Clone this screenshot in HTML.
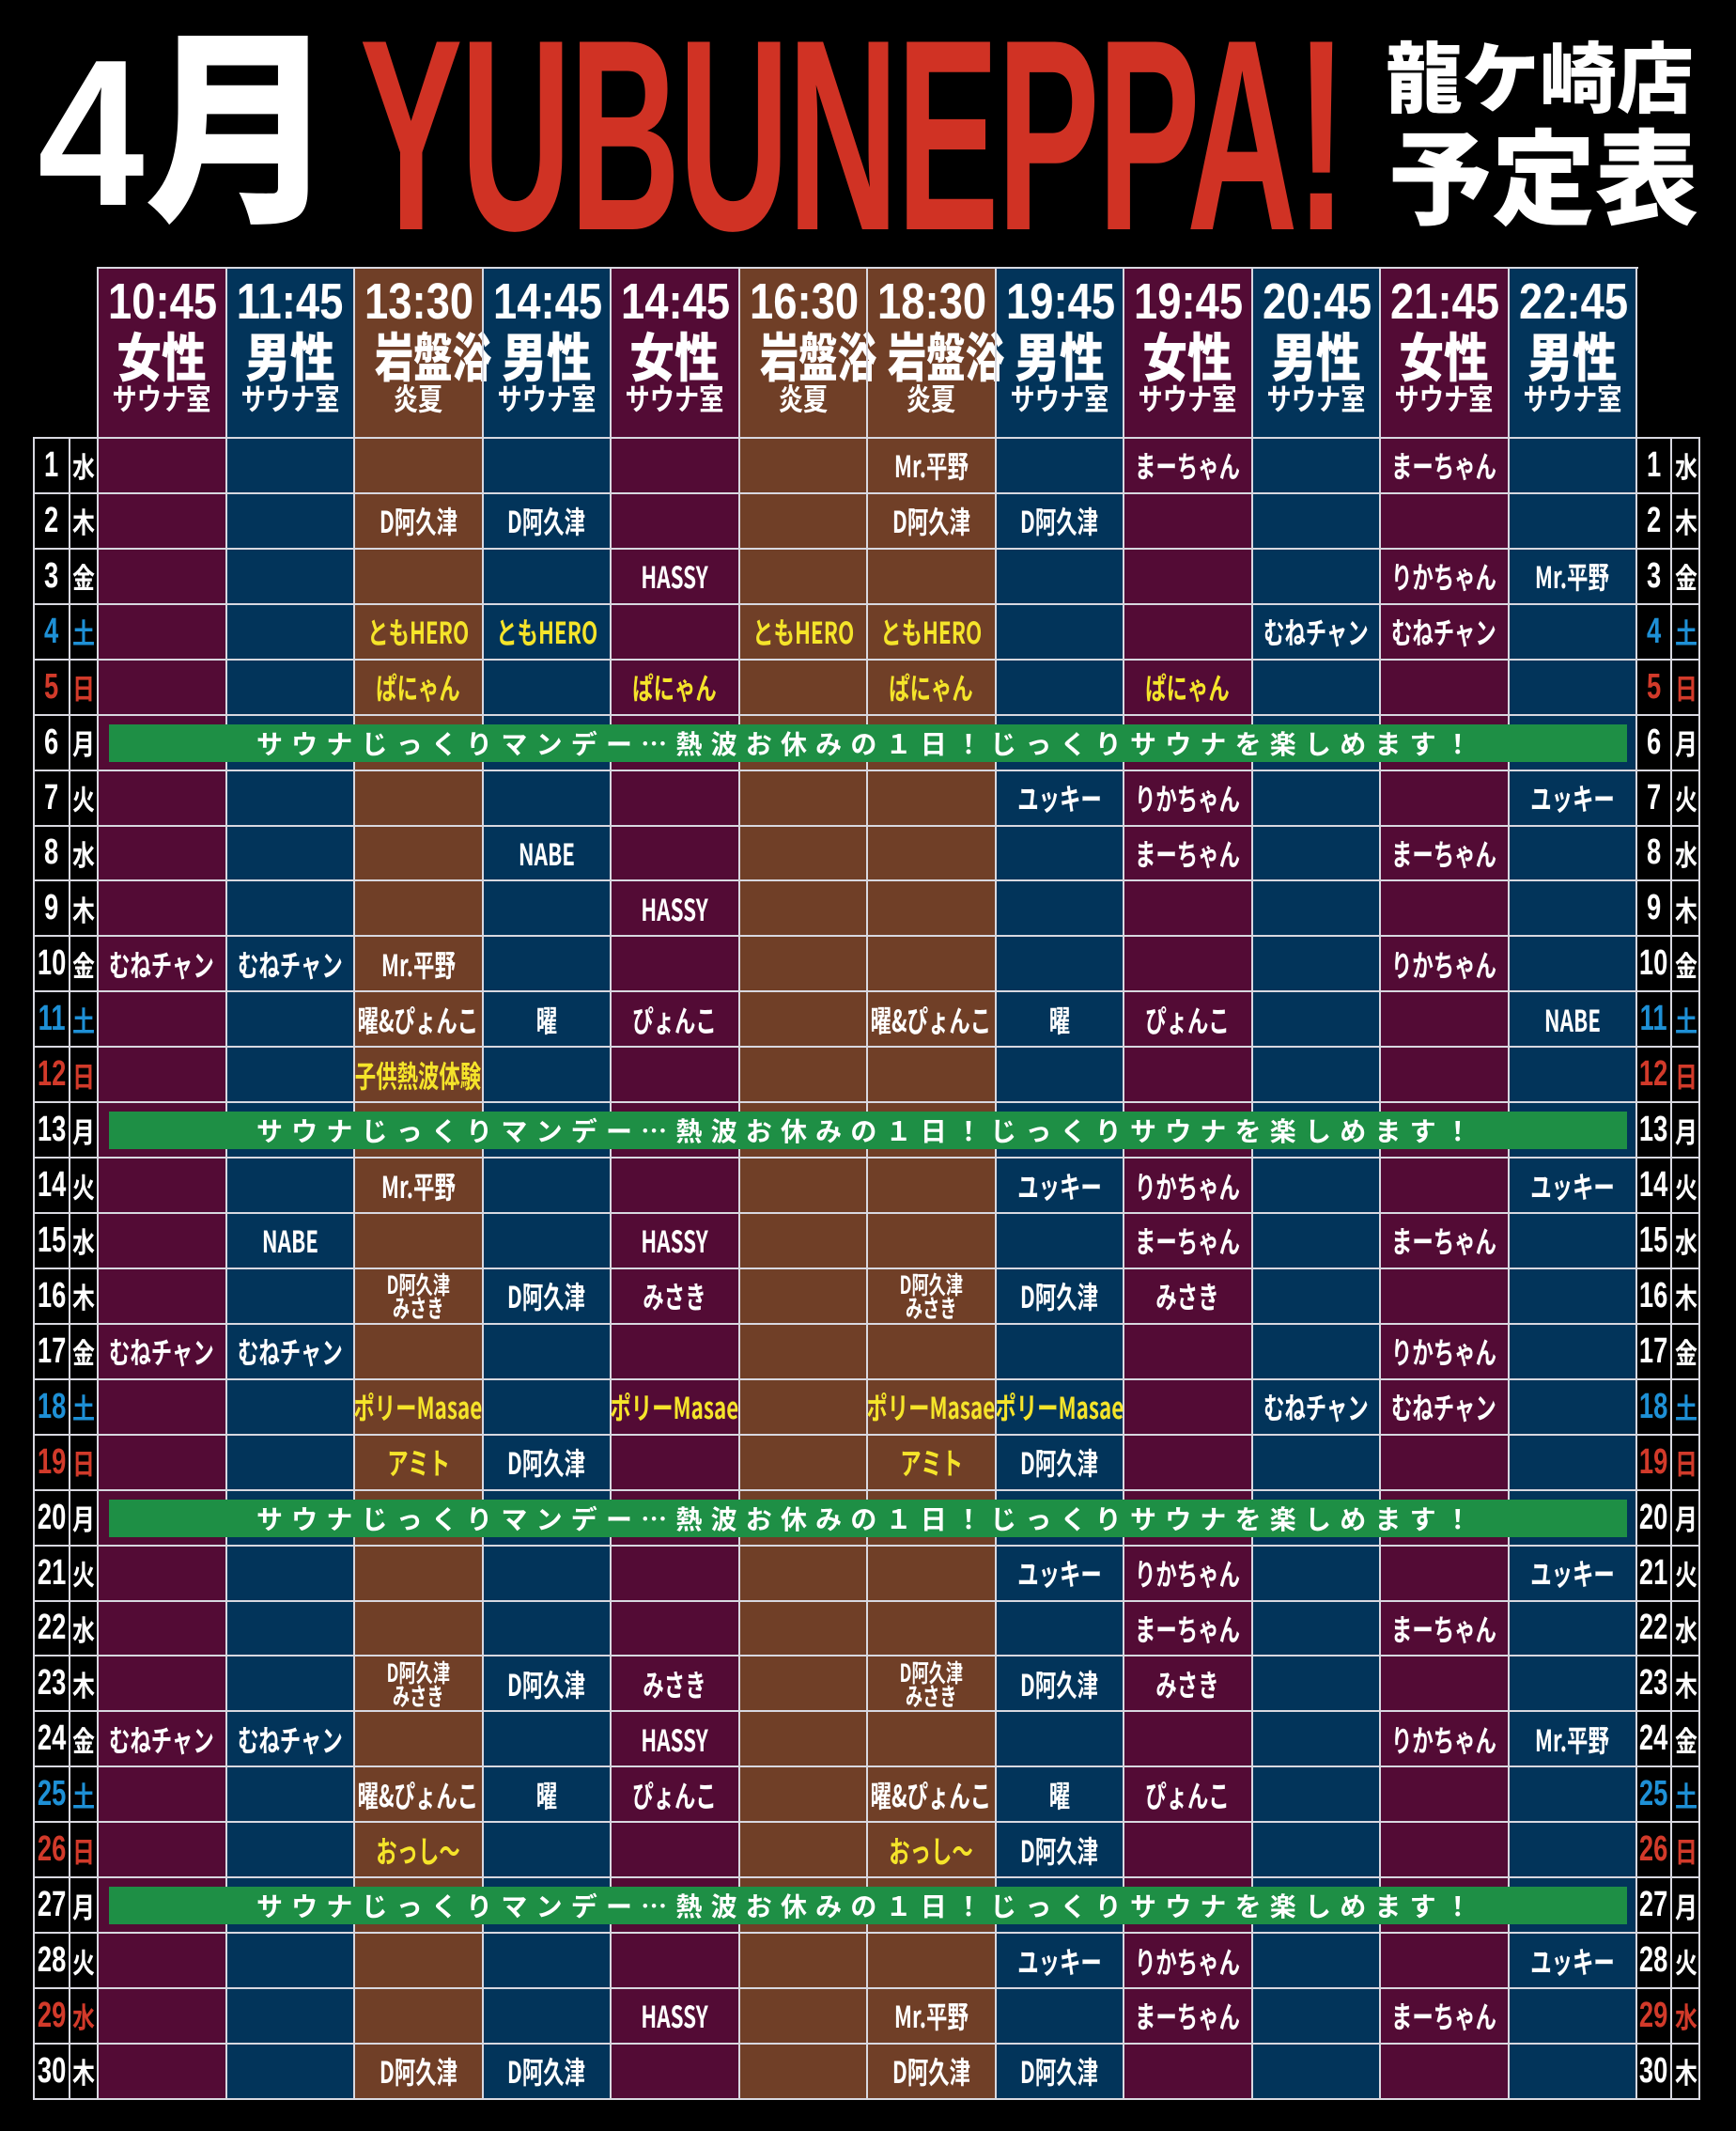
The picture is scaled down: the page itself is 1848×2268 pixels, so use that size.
<!DOCTYPE html>
<html><head><meta charset="utf-8"><style>
*{margin:0;padding:0;box-sizing:border-box}
body{width:1848px;height:2268px;background:#000;position:relative;overflow:hidden;font-family:"Liberation Sans","Noto Sans CJK JP",sans-serif;font-weight:bold;color:#fff}
.abs{position:absolute}
.t{display:inline-block;white-space:nowrap}
.col{position:absolute;top:285px;height:1949px;width:136.5px}
.P{background:#530b35}.N{background:#02345a}.B{background:#703f27}
.h{position:absolute;top:285px;width:136.5px;height:181px;text-align:center}
.h .a{position:absolute;left:0;right:0;top:6px;font-size:54px;line-height:60px}
.h .b{position:absolute;left:0;right:0;top:62px;font-size:56px;line-height:62px;font-family:"Noto Sans CJK JP",sans-serif;font-weight:900}
.h .c{position:absolute;left:0;right:0;top:118px;font-size:32px;line-height:40px;font-family:"Noto Sans CJK JP",sans-serif}
.h .a span{transform:scaleX(0.84)}
.h .b span{transform:scaleX(0.85)}
.h .b span.w{transform:scaleX(0.74)}
.h .c span{transform:scaleX(0.82)}
.r{position:absolute;left:36px;height:58.93px;display:grid;grid-template-columns:38px 30px repeat(12,136.5px) 37px 31px}
.r>*{grid-row:1;display:flex;align-items:center;justify-content:center;white-space:nowrap;font-size:32px;font-family:"Noto Sans CJK JP",sans-serif;overflow:visible}
.r>* span{display:inline-block;transform:scaleX(0.7)}
.r .n span{transform:scaleX(0.72);font-family:"Liberation Sans",sans-serif;font-size:38px}
.r .d span{transform:scaleX(0.8);font-size:30px}
.y{color:#f5e42a}
.bl{color:#1e90d6}.rd{color:#d23a2a}
.two span{font-size:26px;line-height:25px;text-align:center}
.hl{position:absolute;left:36px;width:1774px;height:2px;background:#d8d8e0}
.vl{position:absolute;width:2px;background:#d8d8e0}
.ban{position:absolute;left:116px;width:1616px;height:40px;background:#1e8f45;text-align:center;font-size:28px;line-height:40px;letter-spacing:9.2px;font-family:"Noto Sans CJK JP",sans-serif;font-weight:bold}
</style></head><body>
<!-- title -->
<div class="abs" style="left:40px;top:22px;font-size:222px;line-height:240px;font-family:'Liberation Sans','Noto Sans CJK JP',sans-serif;font-weight:900"><span class="t" style="transform:scaleX(0.92);transform-origin:left">4月</span></div>
<div class="abs" style="left:383px;top:-6px;color:#d03224;font-size:290px;line-height:300px;font-family:'Liberation Sans',sans-serif;font-weight:bold"><span class="t" style="transform:scaleX(0.565);transform-origin:left;letter-spacing:-4px">YUBUNEPPA!</span></div>
<div class="abs" style="left:1475px;top:30px;font-size:82px;line-height:96px;font-family:'Noto Sans CJK JP',sans-serif;font-weight:900"><span class="t">龍ケ崎店</span></div>
<div class="abs" style="left:1478px;top:122px;font-size:110px;line-height:120px;font-family:'Noto Sans CJK JP',sans-serif;font-weight:900"><span class="t">予定表</span></div>

<!-- columns -->
<div class="col P" style="left:104px"></div>
<div class="col N" style="left:240.5px"></div>
<div class="col B" style="left:377px"></div>
<div class="col N" style="left:513.5px"></div>
<div class="col P" style="left:650px"></div>
<div class="col B" style="left:786.5px"></div>
<div class="col B" style="left:923px"></div>
<div class="col N" style="left:1059.5px"></div>
<div class="col P" style="left:1196px"></div>
<div class="col N" style="left:1332.5px"></div>
<div class="col P" style="left:1469px"></div>
<div class="col N" style="left:1605.5px"></div>

<!-- headers -->
<div class="h" style="left:104px"><div class="a"><span class="t">10:45</span></div><div class="b"><span class="t">女性</span></div><div class="c"><span class="t">サウナ室</span></div></div>
<div class="h" style="left:240.5px"><div class="a"><span class="t">11:45</span></div><div class="b"><span class="t">男性</span></div><div class="c"><span class="t">サウナ室</span></div></div>
<div class="h" style="left:377px"><div class="a"><span class="t">13:30</span></div><div class="b"><span class="t w">岩盤浴</span></div><div class="c"><span class="t">炎夏</span></div></div>
<div class="h" style="left:513.5px"><div class="a"><span class="t">14:45</span></div><div class="b"><span class="t">男性</span></div><div class="c"><span class="t">サウナ室</span></div></div>
<div class="h" style="left:650px"><div class="a"><span class="t">14:45</span></div><div class="b"><span class="t">女性</span></div><div class="c"><span class="t">サウナ室</span></div></div>
<div class="h" style="left:786.5px"><div class="a"><span class="t">16:30</span></div><div class="b"><span class="t w">岩盤浴</span></div><div class="c"><span class="t">炎夏</span></div></div>
<div class="h" style="left:923px"><div class="a"><span class="t">18:30</span></div><div class="b"><span class="t w">岩盤浴</span></div><div class="c"><span class="t">炎夏</span></div></div>
<div class="h" style="left:1059.5px"><div class="a"><span class="t">19:45</span></div><div class="b"><span class="t">男性</span></div><div class="c"><span class="t">サウナ室</span></div></div>
<div class="h" style="left:1196px"><div class="a"><span class="t">19:45</span></div><div class="b"><span class="t">女性</span></div><div class="c"><span class="t">サウナ室</span></div></div>
<div class="h" style="left:1332.5px"><div class="a"><span class="t">20:45</span></div><div class="b"><span class="t">男性</span></div><div class="c"><span class="t">サウナ室</span></div></div>
<div class="h" style="left:1469px"><div class="a"><span class="t">21:45</span></div><div class="b"><span class="t">女性</span></div><div class="c"><span class="t">サウナ室</span></div></div>
<div class="h" style="left:1605.5px"><div class="a"><span class="t">22:45</span></div><div class="b"><span class="t">男性</span></div><div class="c"><span class="t">サウナ室</span></div></div>

<!-- lines -->
<div class="abs" style="left:104px;top:284px;width:1640px;height:2px;background:#d8d8e0"></div>
<div id="lines"></div>
<script>
(function(){
var L=document.getElementById('lines'),h='';
for(var i=0;i<=30;i++){h+='<div class="hl" style="top:'+(465+i*58.93).toFixed(2)+'px"></div>';}
var xs=[36,74,104];for(var j=1;j<=12;j++)xs.push(104+j*136.5);xs.push(1779,1809);
xs.forEach(function(x){var top=(x>=104&&x<=1743)?284:465;h+='<div class="vl" style="left:'+(x-1)+'px;top:'+top+'px;height:'+(2235-top)+'px"></div>';});
L.innerHTML=h;
})();
</script>

<div id="rows"></div>
<script>
(function(){
var dows=['水','木','金','土','日','月','火'];
var data={
1:{7:'Mr.平野',9:'まーちゃん',11:'まーちゃん'},
2:{3:'D阿久津',4:'D阿久津',7:'D阿久津',8:'D阿久津'},
3:{5:'HASSY',11:'りかちゃん',12:'Mr.平野'},
4:{3:'*ともHERO',4:'*ともHERO',6:'*ともHERO',7:'*ともHERO',10:'むねチャン',11:'むねチャン'},
5:{3:'*ぱにゃん',5:'*ぱにゃん',7:'*ぱにゃん',9:'*ぱにゃん'},
7:{8:'ユッキー',9:'りかちゃん',12:'ユッキー'},
8:{4:'NABE',9:'まーちゃん',11:'まーちゃん'},
9:{5:'HASSY'},
10:{1:'むねチャン',2:'むねチャン',3:'Mr.平野',11:'りかちゃん'},
11:{3:'曜&ぴょんこ',4:'曜',5:'ぴょんこ',7:'曜&ぴょんこ',8:'曜',9:'ぴょんこ',12:'NABE'},
12:{3:'*子供熱波体験'},
14:{3:'Mr.平野',8:'ユッキー',9:'りかちゃん',12:'ユッキー'},
15:{2:'NABE',5:'HASSY',9:'まーちゃん',11:'まーちゃん'},
16:{3:'#',4:'D阿久津',5:'みさき',7:'#',8:'D阿久津',9:'みさき'},
17:{1:'むねチャン',2:'むねチャン',11:'りかちゃん'},
18:{3:'*ポリーMasae',5:'*ポリーMasae',7:'*ポリーMasae',8:'*ポリーMasae',10:'むねチャン',11:'むねチャン'},
19:{3:'*アミト',4:'D阿久津',7:'*アミト',8:'D阿久津'},
21:{8:'ユッキー',9:'りかちゃん',12:'ユッキー'},
22:{9:'まーちゃん',11:'まーちゃん'},
23:{3:'#',4:'D阿久津',5:'みさき',7:'#',8:'D阿久津',9:'みさき'},
24:{1:'むねチャン',2:'むねチャン',5:'HASSY',11:'りかちゃん',12:'Mr.平野'},
25:{3:'曜&ぴょんこ',4:'曜',5:'ぴょんこ',7:'曜&ぴょんこ',8:'曜',9:'ぴょんこ'},
26:{3:'*おっし～',7:'*おっし～',8:'D阿久津'},
28:{8:'ユッキー',9:'りかちゃん',12:'ユッキー'},
29:{5:'HASSY',7:'Mr.平野',9:'まーちゃん',11:'まーちゃん'},
30:{3:'D阿久津',4:'D阿久津',7:'D阿久津',8:'D阿久津'}
};
var h='';
for(var d=1;d<=30;d++){
 var top=466+(d-1)*58.93, dw=dows[(d-1)%7];
 var cls=dw=='土'?'bl':(dw=='日'||d==29)?'rd':'';
 h+='<div class="r" style="top:'+top.toFixed(2)+'px">';
 h+='<div class="n '+cls+'" style="grid-column:1"><span>'+d+'</span></div>';
 h+='<div class="d '+cls+'" style="grid-column:2"><span>'+dw+'</span></div>';
 h+='<div class="n '+cls+'" style="grid-column:15"><span>'+d+'</span></div>';
 h+='<div class="d '+cls+'" style="grid-column:16"><span>'+dw+'</span></div>';
 var row=data[d]||{};
 for(var c in row){
  var t=row[c],y='';
  if(t[0]=='*'){y=' y';t=t.slice(1);}
  if(t=='#'){h+='<div class="two" style="grid-column:'+(+c+2)+'"><span>D阿久津<br>みさき</span></div>';continue;}
  h+='<div class="'+y+'" style="grid-column:'+(+c+2)+'"><span>'+t+'</span></div>';
 }
 h+='</div>';
 if(dw=='月'){h+='<div class="ban" style="top:'+(top+10).toFixed(2)+'px">サウナじっくりマンデー…熱波お休みの１日！じっくりサウナを楽しめます！</div>';}
}
document.getElementById('rows').innerHTML=h;
})();
</script>
</body></html>
